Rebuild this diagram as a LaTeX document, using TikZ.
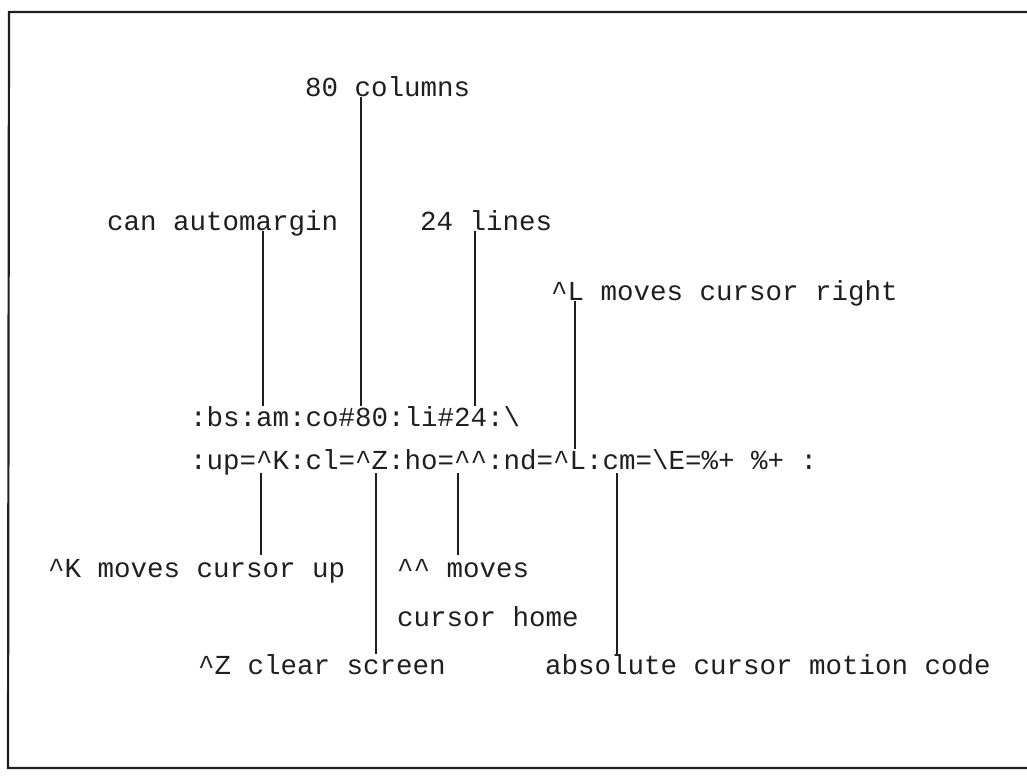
\documentclass[tikz,border=0pt]{standalone}
\usepackage{fontspec}
\setmonofont{Liberation Mono}
\begin{document}
\begin{tikzpicture}[x=1pt,y=-1pt,
  ink/.style={black!88},
  lbl/.style={anchor=base west,inner sep=0pt,ink,
    font=\ttfamily\fontsize{27.5}{27.5}\selectfont},
  lead/.style={ink,line width=1.5pt},
  rim/.style={ink,line width=2.2pt}]
\useasboundingbox (0,0) rectangle (1027,776);
\fill[white] (0,0) rectangle (1027,776);

% frame (open on the right)
\draw[rim] (1030,12) -- (9,12) -- (8,768) -- (1030,768);

% the two capability lines
\node[lbl] (capa) at (190,426) {:bs:am:co\#80:li\#24:\textbackslash};
\node[lbl] (capb) at (190,469) {:up=\textasciicircum K:cl=\textasciicircum Z:ho=\textasciicircum\textasciicircum:nd=\textasciicircum L:cm=\textbackslash E=\%+ \%+ :};

% labels above
\node[lbl] (cols)  at (305,96)  {80 columns};
\node[lbl] (amarg) at (107,230) {can automargin};
\node[lbl] (lines) at (420,230) {24 lines};
\node[lbl] (right) at (551,300) {\textasciicircum L moves cursor right};

% labels below
\node[lbl] (up)    at (48,577)  {\textasciicircum K moves cursor up};
\node[lbl] (homea) at (397,577) {\textasciicircum\textasciicircum{} moves};
\node[lbl] (homeb) at (397,626) {cursor home};
\node[lbl] (clear) at (198,674) {\textasciicircum Z clear screen};
\node[lbl] (abs)   at (545,674) {absolute cursor motion code};

% leader end points
\coordinate (am1) at (263,231); \coordinate (am2) at (263,406);
\coordinate (co1) at (361,97);  \coordinate (co2) at (361,406);
\coordinate (li1) at (475,231); \coordinate (li2) at (475,406);
\coordinate (nd1) at (575,301); \coordinate (nd2) at (575,449);
\coordinate (up1) at (261,473); \coordinate (up2) at (261,555);
\coordinate (cl1) at (376,473); \coordinate (cl2) at (376,654);
\coordinate (ho1) at (458,473); \coordinate (ho2) at (458,555);
\coordinate (cm1) at (617,473); \coordinate (cm2) at (617,654);

% leaders
\draw[lead] (am1) -- (am2);
\draw[lead] (co1) -- (co2);
\draw[lead] (li1) -- (li2);
\draw[lead] (nd1) -- (nd2);
\draw[lead] (up1) -- (up2);
\draw[lead] (cl1) -- (cl2);
\draw[lead] (ho1) -- (ho2);
\draw[lead] (cm1) -- (cm2);
\end{tikzpicture}
\end{document}
